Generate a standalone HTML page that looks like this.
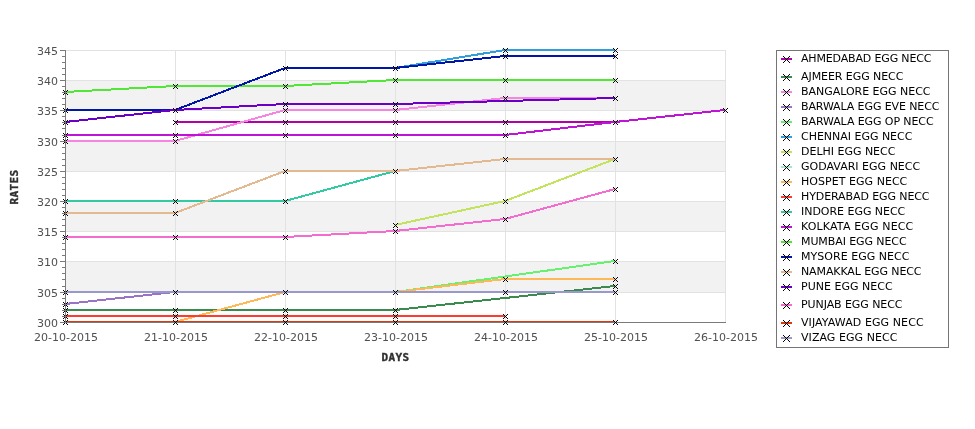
<!DOCTYPE html>
<html><head><meta charset="utf-8"><title>Egg rates</title>
<style>html,body{margin:0;padding:0;background:#fff;}body{width:975px;height:429px;overflow:hidden;}svg{display:block;}.t{font-family:"DejaVu Sans","Liberation Sans",sans-serif;font-size:11px;fill:#505050;}.l{font-family:"DejaVu Sans","Liberation Sans",sans-serif;font-size:11px;fill:#000;}.a{font-family:"DejaVu Sans Mono","Liberation Mono",monospace;font-weight:bold;font-size:11px;fill:#303030;stroke:#303030;stroke-width:0.35px;letter-spacing:0.38px;}</style></head><body>
<svg width="975" height="429" viewBox="0 0 975 429">
<rect x="0" y="0" width="975" height="429" fill="#ffffff"/>
<rect x="65.00" y="80.00" width="660.00" height="31.00" fill="#f2f2f2"/>
<rect x="65.00" y="141.00" width="660.00" height="31.00" fill="#f2f2f2"/>
<rect x="65.00" y="201.00" width="660.00" height="31.00" fill="#f2f2f2"/>
<rect x="65.00" y="261.00" width="660.00" height="32.00" fill="#f2f2f2"/>
<g stroke="#e2e2e2" stroke-width="1" shape-rendering="crispEdges">
<line x1="65.0" y1="322.5" x2="726.0" y2="322.5"/>
<line x1="65.0" y1="292.5" x2="726.0" y2="292.5"/>
<line x1="65.0" y1="261.5" x2="726.0" y2="261.5"/>
<line x1="65.0" y1="231.5" x2="726.0" y2="231.5"/>
<line x1="65.0" y1="201.5" x2="726.0" y2="201.5"/>
<line x1="65.0" y1="171.5" x2="726.0" y2="171.5"/>
<line x1="65.0" y1="141.5" x2="726.0" y2="141.5"/>
<line x1="65.0" y1="110.5" x2="726.0" y2="110.5"/>
<line x1="65.0" y1="80.5" x2="726.0" y2="80.5"/>
<line x1="65.0" y1="50.5" x2="726.0" y2="50.5"/>
<line x1="65.5" y1="50.0" x2="65.5" y2="323.0"/>
<line x1="175.5" y1="50.0" x2="175.5" y2="323.0"/>
<line x1="285.5" y1="50.0" x2="285.5" y2="323.0"/>
<line x1="395.5" y1="50.0" x2="395.5" y2="323.0"/>
<line x1="505.5" y1="50.0" x2="505.5" y2="323.0"/>
<line x1="615.5" y1="50.0" x2="615.5" y2="323.0"/>
<line x1="725.5" y1="50.0" x2="725.5" y2="323.0"/>
</g>
<defs><path id="m" d="M-2 -2h1v1h-1zM-1 -1h1v1h-1zM0 0h1v1h-1zM1 1h1v1h-1zM2 2h1v1h-1zM2 -2h1v1h-1zM1 -1h1v1h-1zM-1 1h1v1h-1zM-2 2h1v1h-1z"/><path id="M" d="M-3 -3h1v1h-1zM-2 -2h1v1h-1zM-1 -1h1v1h-1zM0 0h1v1h-1zM1 1h1v1h-1zM2 2h1v1h-1zM3 3h1v1h-1zM3 -3h1v1h-1zM2 -2h1v1h-1zM1 -1h1v1h-1zM-1 1h1v1h-1zM-2 2h1v1h-1zM-3 3h1v1h-1z"/></defs>
<g fill="none" stroke-width="2" stroke-linejoin="miter" stroke-linecap="butt" shape-rendering="crispEdges">
<polyline stroke="#b400a8" points="175,122 285,122 395,122 505,122 615,122"/>
<polyline stroke="#3a8b4d" points="65,310 175,310 285,310 395,310 615,286"/>
<polyline stroke="#f585e0" points="65,141 175,141 285,110 395,110 505,98 615,98"/>
<polyline stroke="#9a72c6" points="65,304 175,292 285,292 395,292"/>
<polyline stroke="#66f26e" points="65,292 175,292 285,292 395,292 615,261"/>
<polyline stroke="#2f9edb" points="65,110 175,110 285,68 395,68 505,50 615,50"/>
<polyline stroke="#c3e35c" points="395,225 505,201 615,159"/>
<polyline stroke="#ffb858" points="65,322 175,322 285,292 395,292 505,279 615,279"/>
<polyline stroke="#ff3b30" points="65,316 175,316 285,316 395,316 505,316"/>
<polyline stroke="#33c9a2" points="65,201 175,201 285,201 395,171"/>
<polyline stroke="#bf14d6" points="65,135 175,135 285,135 395,135 505,135 615,122 725,110"/>
<polyline stroke="#52e636" points="65,92 175,86 285,86 395,80 505,80 615,80"/>
<polyline stroke="#0016a6" points="65,110 175,110 285,68 395,68 505,56 615,56"/>
<polyline stroke="#e3b98f" points="65,213 175,213 285,171 395,171 505,159 615,159"/>
<polyline stroke="#6a00c8" points="65,122 175,110 285,104 395,104 615,98"/>
<polyline stroke="#f36ccf" points="65,237 175,237 285,237 395,231 505,219 615,189"/>
<polyline stroke="#e2360f" points="65,322 175,322 285,322 395,322 505,322 615,322"/>
<polyline stroke="#9a98ca" points="65,292 175,292 285,292 395,292 505,292 615,292"/>
</g>
<g stroke="#7a7a7a" stroke-width="1" shape-rendering="crispEdges">
<line x1="65.0" y1="322.5" x2="726.0" y2="322.5"/>
</g>
<g fill="#000" shape-rendering="crispEdges">
<use href="#m" x="175" y="122"/>
<use href="#m" x="285" y="122"/>
<use href="#m" x="395" y="122"/>
<use href="#m" x="505" y="122"/>
<use href="#m" x="615" y="122"/>
<use href="#m" x="65" y="310"/>
<use href="#m" x="175" y="310"/>
<use href="#m" x="285" y="310"/>
<use href="#m" x="395" y="310"/>
<use href="#m" x="615" y="286"/>
<use href="#m" x="65" y="141"/>
<use href="#m" x="175" y="141"/>
<use href="#m" x="285" y="110"/>
<use href="#m" x="395" y="110"/>
<use href="#m" x="505" y="98"/>
<use href="#m" x="615" y="98"/>
<use href="#m" x="65" y="304"/>
<use href="#m" x="175" y="292"/>
<use href="#m" x="285" y="292"/>
<use href="#m" x="395" y="292"/>
<use href="#m" x="65" y="292"/>
<use href="#m" x="615" y="261"/>
<use href="#m" x="65" y="110"/>
<use href="#m" x="175" y="110"/>
<use href="#m" x="285" y="68"/>
<use href="#m" x="395" y="68"/>
<use href="#m" x="505" y="50"/>
<use href="#m" x="615" y="50"/>
<use href="#m" x="395" y="225"/>
<use href="#m" x="505" y="201"/>
<use href="#m" x="615" y="159"/>
<use href="#m" x="65" y="322"/>
<use href="#m" x="175" y="322"/>
<use href="#m" x="505" y="279"/>
<use href="#m" x="615" y="279"/>
<use href="#m" x="65" y="316"/>
<use href="#m" x="175" y="316"/>
<use href="#m" x="285" y="316"/>
<use href="#m" x="395" y="316"/>
<use href="#m" x="505" y="316"/>
<use href="#m" x="65" y="201"/>
<use href="#m" x="175" y="201"/>
<use href="#m" x="285" y="201"/>
<use href="#m" x="395" y="171"/>
<use href="#m" x="65" y="135"/>
<use href="#m" x="175" y="135"/>
<use href="#m" x="285" y="135"/>
<use href="#m" x="395" y="135"/>
<use href="#m" x="505" y="135"/>
<use href="#m" x="725" y="110"/>
<use href="#m" x="65" y="92"/>
<use href="#m" x="175" y="86"/>
<use href="#m" x="285" y="86"/>
<use href="#m" x="395" y="80"/>
<use href="#m" x="505" y="80"/>
<use href="#m" x="615" y="80"/>
<use href="#m" x="505" y="56"/>
<use href="#m" x="615" y="56"/>
<use href="#m" x="65" y="213"/>
<use href="#m" x="175" y="213"/>
<use href="#m" x="285" y="171"/>
<use href="#m" x="505" y="159"/>
<use href="#m" x="65" y="122"/>
<use href="#m" x="285" y="104"/>
<use href="#m" x="395" y="104"/>
<use href="#m" x="65" y="237"/>
<use href="#m" x="175" y="237"/>
<use href="#m" x="285" y="237"/>
<use href="#m" x="395" y="231"/>
<use href="#m" x="505" y="219"/>
<use href="#m" x="615" y="189"/>
<use href="#m" x="285" y="322"/>
<use href="#m" x="395" y="322"/>
<use href="#m" x="505" y="322"/>
<use href="#m" x="615" y="322"/>
<use href="#m" x="505" y="292"/>
<use href="#m" x="615" y="292"/>
</g>
<g stroke="#7a7a7a" stroke-width="1" shape-rendering="crispEdges">
<line x1="65.5" y1="50.0" x2="65.5" y2="323.0"/>
<line x1="60.0" y1="322.5" x2="65.0" y2="322.5"/>
<line x1="62.0" y1="316.5" x2="65.0" y2="316.5"/>
<line x1="62.0" y1="310.5" x2="65.0" y2="310.5"/>
<line x1="62.0" y1="304.5" x2="65.0" y2="304.5"/>
<line x1="62.0" y1="298.5" x2="65.0" y2="298.5"/>
<line x1="60.0" y1="292.5" x2="65.0" y2="292.5"/>
<line x1="62.0" y1="286.5" x2="65.0" y2="286.5"/>
<line x1="62.0" y1="279.5" x2="65.0" y2="279.5"/>
<line x1="62.0" y1="273.5" x2="65.0" y2="273.5"/>
<line x1="62.0" y1="267.5" x2="65.0" y2="267.5"/>
<line x1="60.0" y1="261.5" x2="65.0" y2="261.5"/>
<line x1="62.0" y1="255.5" x2="65.0" y2="255.5"/>
<line x1="62.0" y1="249.5" x2="65.0" y2="249.5"/>
<line x1="62.0" y1="243.5" x2="65.0" y2="243.5"/>
<line x1="62.0" y1="237.5" x2="65.0" y2="237.5"/>
<line x1="60.0" y1="231.5" x2="65.0" y2="231.5"/>
<line x1="62.0" y1="225.5" x2="65.0" y2="225.5"/>
<line x1="62.0" y1="219.5" x2="65.0" y2="219.5"/>
<line x1="62.0" y1="213.5" x2="65.0" y2="213.5"/>
<line x1="62.0" y1="207.5" x2="65.0" y2="207.5"/>
<line x1="60.0" y1="201.5" x2="65.0" y2="201.5"/>
<line x1="62.0" y1="195.5" x2="65.0" y2="195.5"/>
<line x1="62.0" y1="189.5" x2="65.0" y2="189.5"/>
<line x1="62.0" y1="183.5" x2="65.0" y2="183.5"/>
<line x1="62.0" y1="177.5" x2="65.0" y2="177.5"/>
<line x1="60.0" y1="171.5" x2="65.0" y2="171.5"/>
<line x1="62.0" y1="165.5" x2="65.0" y2="165.5"/>
<line x1="62.0" y1="159.5" x2="65.0" y2="159.5"/>
<line x1="62.0" y1="153.5" x2="65.0" y2="153.5"/>
<line x1="62.0" y1="147.5" x2="65.0" y2="147.5"/>
<line x1="60.0" y1="141.5" x2="65.0" y2="141.5"/>
<line x1="62.0" y1="135.5" x2="65.0" y2="135.5"/>
<line x1="62.0" y1="128.5" x2="65.0" y2="128.5"/>
<line x1="62.0" y1="122.5" x2="65.0" y2="122.5"/>
<line x1="62.0" y1="116.5" x2="65.0" y2="116.5"/>
<line x1="60.0" y1="110.5" x2="65.0" y2="110.5"/>
<line x1="62.0" y1="104.5" x2="65.0" y2="104.5"/>
<line x1="62.0" y1="98.5" x2="65.0" y2="98.5"/>
<line x1="62.0" y1="92.5" x2="65.0" y2="92.5"/>
<line x1="62.0" y1="86.5" x2="65.0" y2="86.5"/>
<line x1="60.0" y1="80.5" x2="65.0" y2="80.5"/>
<line x1="62.0" y1="74.5" x2="65.0" y2="74.5"/>
<line x1="62.0" y1="68.5" x2="65.0" y2="68.5"/>
<line x1="62.0" y1="62.5" x2="65.0" y2="62.5"/>
<line x1="62.0" y1="56.5" x2="65.0" y2="56.5"/>
<line x1="60.0" y1="50.5" x2="65.0" y2="50.5"/>
</g>
<text class="t" x="58" y="327" text-anchor="end">300</text>
<text class="t" x="58" y="297" text-anchor="end">305</text>
<text class="t" x="58" y="266" text-anchor="end">310</text>
<text class="t" x="58" y="236" text-anchor="end">315</text>
<text class="t" x="58" y="206" text-anchor="end">320</text>
<text class="t" x="58" y="176" text-anchor="end">325</text>
<text class="t" x="58" y="146" text-anchor="end">330</text>
<text class="t" x="58" y="115" text-anchor="end">335</text>
<text class="t" x="58" y="85" text-anchor="end">340</text>
<text class="t" x="58" y="55" text-anchor="end">345</text>
<text class="t" x="66.0" y="341" text-anchor="middle">20-10-2015</text>
<text class="t" x="176.0" y="341" text-anchor="middle">21-10-2015</text>
<text class="t" x="286.0" y="341" text-anchor="middle">22-10-2015</text>
<text class="t" x="396.0" y="341" text-anchor="middle">23-10-2015</text>
<text class="t" x="506.0" y="341" text-anchor="middle">24-10-2015</text>
<text class="t" x="616.0" y="341" text-anchor="middle">25-10-2015</text>
<text class="t" x="726.0" y="341" text-anchor="middle">26-10-2015</text>
<text class="a" x="381.5" y="361">DAYS</text>
<text class="a" transform="translate(18,204.5) rotate(-90)">RATES</text>
<rect x="776.5" y="50.5" width="172" height="297" fill="#fff" stroke="#757575" stroke-width="1" shape-rendering="crispEdges"/>
<line x1="781" y1="59" x2="792" y2="59" stroke="#b400a8" stroke-width="2" shape-rendering="crispEdges"/>
<use href="#M" x="786" y="59" fill="#000" shape-rendering="crispEdges"/>
<text class="l" x="801" y="62" textLength="130.4" lengthAdjust="spacing">AHMEDABAD EGG NECC</text>
<line x1="781" y1="77" x2="792" y2="77" stroke="#3a8b4d" stroke-width="2" shape-rendering="crispEdges"/>
<use href="#M" x="786" y="77" fill="#000" shape-rendering="crispEdges"/>
<text class="l" x="801" y="80" textLength="102.4" lengthAdjust="spacing">AJMEER EGG NECC</text>
<line x1="781" y1="92" x2="792" y2="92" stroke="#f585e0" stroke-width="2" shape-rendering="crispEdges"/>
<use href="#M" x="786" y="92" fill="#000" shape-rendering="crispEdges"/>
<text class="l" x="801" y="95" textLength="129.5" lengthAdjust="spacing">BANGALORE EGG NECC</text>
<line x1="781" y1="107" x2="792" y2="107" stroke="#9a72c6" stroke-width="2" shape-rendering="crispEdges"/>
<use href="#M" x="786" y="107" fill="#000" shape-rendering="crispEdges"/>
<text class="l" x="801" y="110" textLength="138.4" lengthAdjust="spacing">BARWALA EGG EVE NECC</text>
<line x1="781" y1="122" x2="792" y2="122" stroke="#66f26e" stroke-width="2" shape-rendering="crispEdges"/>
<use href="#M" x="786" y="122" fill="#000" shape-rendering="crispEdges"/>
<text class="l" x="801" y="125" textLength="132.6" lengthAdjust="spacing">BARWALA EGG OP NECC</text>
<line x1="781" y1="137" x2="792" y2="137" stroke="#2f9edb" stroke-width="2" shape-rendering="crispEdges"/>
<use href="#M" x="786" y="137" fill="#000" shape-rendering="crispEdges"/>
<text class="l" x="801" y="140" textLength="111.4" lengthAdjust="spacing">CHENNAI EGG NECC</text>
<line x1="781" y1="152" x2="792" y2="152" stroke="#c3e35c" stroke-width="2" shape-rendering="crispEdges"/>
<use href="#M" x="786" y="152" fill="#000" shape-rendering="crispEdges"/>
<text class="l" x="801" y="155" textLength="94.4" lengthAdjust="spacing">DELHI EGG NECC</text>
<line x1="781" y1="167" x2="792" y2="167" stroke="#a6e3d3" stroke-width="2" shape-rendering="crispEdges"/>
<use href="#M" x="786" y="167" fill="#000" shape-rendering="crispEdges"/>
<text class="l" x="801" y="170" textLength="119.2" lengthAdjust="spacing">GODAVARI EGG NECC</text>
<line x1="781" y1="182" x2="792" y2="182" stroke="#ffb858" stroke-width="2" shape-rendering="crispEdges"/>
<use href="#M" x="786" y="182" fill="#000" shape-rendering="crispEdges"/>
<text class="l" x="801" y="185" textLength="106.3" lengthAdjust="spacing">HOSPET EGG NECC</text>
<line x1="781" y1="197" x2="792" y2="197" stroke="#ff3b30" stroke-width="2" shape-rendering="crispEdges"/>
<use href="#M" x="786" y="197" fill="#000" shape-rendering="crispEdges"/>
<text class="l" x="801" y="200" textLength="128.5" lengthAdjust="spacing">HYDERABAD EGG NECC</text>
<line x1="781" y1="212" x2="792" y2="212" stroke="#33c9a2" stroke-width="2" shape-rendering="crispEdges"/>
<use href="#M" x="786" y="212" fill="#000" shape-rendering="crispEdges"/>
<text class="l" x="801" y="215" textLength="104.3" lengthAdjust="spacing">INDORE EGG NECC</text>
<line x1="781" y1="227" x2="792" y2="227" stroke="#bf14d6" stroke-width="2" shape-rendering="crispEdges"/>
<use href="#M" x="786" y="227" fill="#000" shape-rendering="crispEdges"/>
<text class="l" x="801" y="230" textLength="112.3" lengthAdjust="spacing">KOLKATA EGG NECC</text>
<line x1="781" y1="242" x2="792" y2="242" stroke="#52e636" stroke-width="2" shape-rendering="crispEdges"/>
<use href="#M" x="786" y="242" fill="#000" shape-rendering="crispEdges"/>
<text class="l" x="801" y="245" textLength="105.6" lengthAdjust="spacing">MUMBAI EGG NECC</text>
<line x1="781" y1="257" x2="792" y2="257" stroke="#0016a6" stroke-width="2" shape-rendering="crispEdges"/>
<use href="#M" x="786" y="257" fill="#000" shape-rendering="crispEdges"/>
<text class="l" x="801" y="260" textLength="108.4" lengthAdjust="spacing">MYSORE EGG NECC</text>
<line x1="781" y1="272" x2="792" y2="272" stroke="#e3b98f" stroke-width="2" shape-rendering="crispEdges"/>
<use href="#M" x="786" y="272" fill="#000" shape-rendering="crispEdges"/>
<text class="l" x="801" y="275" textLength="120.5" lengthAdjust="spacing">NAMAKKAL EGG NECC</text>
<line x1="781" y1="287" x2="792" y2="287" stroke="#6a00c8" stroke-width="2" shape-rendering="crispEdges"/>
<use href="#M" x="786" y="287" fill="#000" shape-rendering="crispEdges"/>
<text class="l" x="801" y="290" textLength="91.6" lengthAdjust="spacing">PUNE EGG NECC</text>
<line x1="781" y1="305" x2="792" y2="305" stroke="#f36ccf" stroke-width="2" shape-rendering="crispEdges"/>
<use href="#M" x="786" y="305" fill="#000" shape-rendering="crispEdges"/>
<text class="l" x="801" y="308" textLength="101.5" lengthAdjust="spacing">PUNJAB EGG NECC</text>
<line x1="781" y1="323" x2="792" y2="323" stroke="#e2360f" stroke-width="2" shape-rendering="crispEdges"/>
<use href="#M" x="786" y="323" fill="#000" shape-rendering="crispEdges"/>
<text class="l" x="801" y="326" textLength="122.6" lengthAdjust="spacing">VIJAYAWAD EGG NECC</text>
<line x1="781" y1="338" x2="792" y2="338" stroke="#9a98ca" stroke-width="2" shape-rendering="crispEdges"/>
<use href="#M" x="786" y="338" fill="#000" shape-rendering="crispEdges"/>
<text class="l" x="801" y="341" textLength="96.4" lengthAdjust="spacing">VIZAG EGG NECC</text>
</svg></body></html>
